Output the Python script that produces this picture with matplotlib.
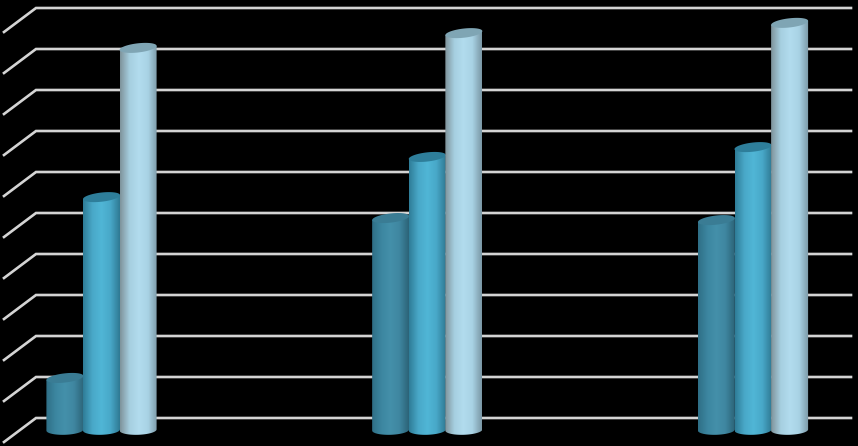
import matplotlib
matplotlib.use("Agg")
import matplotlib.pyplot as plt
import numpy as np
from matplotlib.patches import Polygon
from matplotlib.path import Path
from matplotlib.colors import LinearSegmentedColormap

# data, in percent of the wall height
categories = ["A", "B", "C"]
series_1 = [12.7, 51.7, 51.2]
series_2 = [56.8, 66.6, 69.0]
series_3 = [93.2, 96.8, 99.3]
gridlines = [0, 10, 20, 30, 40, 50, 60, 70, 80, 90, 100]

# edge -> highlight -> edge shading for every series
shades = [["#2f6f86", "#3c86a0", "#4490aa", "#3f86a0", "#2c6478"],
          ["#2f7d98", "#49a8c8", "#50b6d6", "#48a8c8", "#2f7a94"],
          ["#7f949c", "#a6cfe0", "#b2dcee", "#a8d2e4", "#7b98a6"]]
top_colors = ["#3a7c94", "#2e7e9a", "#7fa5b4"]

W, H = 858, 446
PX_X = 325.75   # pixels per category
PX_Y = 4.1      # pixels per percent
x0_px = 101.5
y0_px = 418.0

fig = plt.figure(figsize=(W / 100, H / 100), dpi=100, facecolor="black")
ax = fig.add_axes([0, 0, 1, 1], facecolor="black")
ax.set_xlim(-x0_px / PX_X, (W - x0_px) / PX_X)
ax.set_ylim((y0_px - H) / PX_Y, y0_px / PX_Y)
ax.axis("off")

wall_left = (36 - x0_px) / PX_X
wall_right = (851 - x0_px) / PX_X
side_dx = -32 / PX_X
side_dy = -24 / PX_Y

for g in gridlines:
    ax.plot([wall_left + side_dx, wall_left, wall_right], [g + side_dy, g, g],
            color="#d4d4d4", lw=1.9, solid_joinstyle="miter", zorder=1)

bar_w = 37 / PX_X
offset = 36.6 / PX_X
depth = 12 / PX_Y
a = bar_w / 2
b_top = 4.6 / PX_Y
b_bot = 4.8 / PX_Y
tilt_top = 2.0 / PX_Y
tilt_bot = 0.6 / PX_Y


def draw_cylinder(xc, value, shade, top_color, z):
    t = np.linspace(0, np.pi, 40)
    ytop = value - depth
    ybot = -depth
    # lower half of the base, then straight up to the lid
    bx = xc - a * np.cos(t)
    by = ybot - b_bot * np.sin(t) - tilt_bot * np.cos(t)
    tx = xc + a * np.cos(t)
    ty = ytop + tilt_top * np.cos(t)
    verts = np.column_stack([np.r_[bx, tx], np.r_[by, ty]])
    cmap = LinearSegmentedColormap.from_list("shade", shade)
    grad = np.linspace(0, 1, 64).reshape(1, -1)
    im = ax.imshow(grad, cmap=cmap, aspect="auto", zorder=z,
                   extent=[xc - a, xc + a, ybot - b_bot, ytop + b_top + tilt_top],
                   interpolation="bilinear")
    im.set_clip_path(Path(np.vstack([verts, verts[0]])), transform=ax.transData)
    # lid
    t = np.linspace(0, 2 * np.pi, 80)
    lid = np.column_stack([xc + a * np.cos(t),
                           ytop + b_top * np.sin(t) + tilt_top * np.cos(t)])
    ax.add_patch(Polygon(lid, closed=True, facecolor=top_color, edgecolor="none", zorder=z + 0.1))


for i, vals in enumerate([series_1, series_2, series_3]):
    for j, v in enumerate(vals):
        draw_cylinder(j + (i - 1) * offset, v, shades[i], top_colors[i], 3 + i)

ax.set_xlim(-x0_px / PX_X, (W - x0_px) / PX_X)
ax.set_ylim((y0_px - H) / PX_Y, y0_px / PX_Y)
fig.savefig("out.png", dpi=100, facecolor="black")
